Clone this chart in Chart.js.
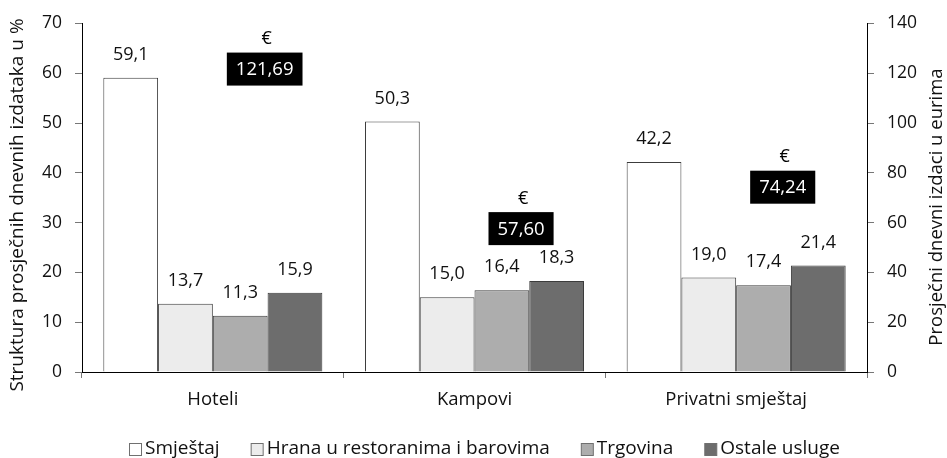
<!DOCTYPE html>
<html>
<head>
<meta charset="utf-8">
<script src="https://cdn.jsdelivr.net/npm/chart.js@4/dist/chart.umd.min.js"></script>
<style>
  html, body { margin: 0; padding: 0; background: #ffffff; }
  #wrap { width: 947px; height: 458px; }
</style>
</head>
<body>
<div id="wrap"><canvas id="c" width="947" height="458"></canvas></div>
<script>
const categories = ['Hoteli', 'Kampovi', 'Privatni smještaj'];
const seriesNames = ['Smještaj', 'Hrana u restoranima i barovima', 'Trgovina', 'Ostale usluge'];
const smjestaj = [59.1, 50.3, 42.2];
const hranaRestorani = [13.7, 15.0, 19.0];
const trgovina = [11.3, 16.4, 17.4];
const ostaleUsluge = [15.9, 18.3, 21.4];
const dnevniIzdaciEur = [121.69, 57.60, 74.24];
const leftAxisTicks = [0, 10, 20, 30, 40, 50, 60, 70];
const rightAxisTicks = [0, 20, 40, 60, 80, 100, 120, 140];
const leftAxisTitle = 'Struktura prosječnih dnevnih izdataka u %';
const rightAxisTitle = 'Prosječni dnevni izdaci u eurima';
const euroSymbol = '€';

const FONT = '"Open Sans", sans-serif';
const barColors = ['#ffffff', '#ececec', '#adadad', '#6d6d6d'];
const seriesValues = [smjestaj, hranaRestorani, trgovina, ostaleUsluge];
const fmt1 = v => v.toFixed(1).replace('.', ',');
const fmt2 = v => v.toFixed(2).replace('.', ',');

const datasets = seriesValues.map((vals, i) => ({
  type: 'bar',
  label: seriesNames[i],
  data: vals,
  backgroundColor: barColors[i],
  borderColor: '#3c3c3c',
  borderWidth: 1,
  yAxisID: 'y',
  categoryPercentage: 0.837,
  barPercentage: 1.0
}));
datasets.push({
  type: 'line',
  label: euroSymbol,
  data: dnevniIzdaciEur,
  yAxisID: 'y2',
  showLine: false,
  pointRadius: 0,
  pointHoverRadius: 0,
  isEuro: true
});

const annotate = {
  id: 'annotate',
  afterDatasetsDraw(chart) {
    const ctx = chart.ctx;
    ctx.save();
    chart.data.datasets.forEach((ds, di) => {
      const meta = chart.getDatasetMeta(di);
      if (ds.isEuro) {
        meta.data.forEach((el, i) => {
          const txt = fmt2(ds.data[i]);
          ctx.font = '18.5px ' + FONT;
          const w = ctx.measureText(txt).width;
          const bw = w + 18, bh = 33;
          const bx = el.x + 14, by = el.y - bh / 2;
          ctx.fillStyle = '#000000';
          ctx.fillRect(bx, by, bw, bh);
          ctx.fillStyle = '#ffffff';
          ctx.textAlign = 'center';
          ctx.textBaseline = 'middle';
          ctx.fillText(txt, bx + bw / 2, el.y + 1);
          ctx.fillStyle = '#000000';
          ctx.font = '18px ' + FONT;
          ctx.fillText(euroSymbol, bx + bw / 2 + 2, el.y - 30);
        });
      } else {
        meta.data.forEach((el, i) => {
          ctx.font = '18px ' + FONT;
          ctx.fillStyle = '#111111';
          ctx.textAlign = 'center';
          ctx.textBaseline = 'middle';
          ctx.fillText(fmt1(ds.data[i]), el.x, el.y - 23);
        });
      }
    });
    // axis titles
    ctx.fillStyle = '#111111';
    ctx.textAlign = 'center';
    ctx.textBaseline = 'middle';
    ctx.save();
    ctx.font = '19px ' + FONT;
    ctx.translate(18, 205);
    ctx.rotate(-Math.PI / 2);
    ctx.fillText(leftAxisTitle, 0, 0);
    ctx.restore();
    ctx.save();
    ctx.font = '18.5px ' + FONT;
    ctx.translate(937, 207);
    ctx.rotate(-Math.PI / 2);
    ctx.fillText(rightAxisTitle, 0, 0);
    ctx.restore();
    // legend
    ctx.font = '19px ' + FONT;
    const gap = 31, box = 13, boxText = 16;
    const widths = seriesNames.map(n => ctx.measureText(n).width);
    const total = widths.reduce((a, b) => a + b + boxText, 0) + gap * (seriesNames.length - 1);
    let x = 484.5 - total / 2;
    const ly = 449.5;
    seriesNames.forEach((n, i) => {
      ctx.fillStyle = barColors[i];
      ctx.fillRect(x + 0.5, ly - box / 2 + 0.5, box - 1, box - 1);
      ctx.strokeStyle = '#707070';
      ctx.lineWidth = 1;
      ctx.strokeRect(x + 0.5, ly - box / 2 + 0.5, box - 1, box - 1);
      ctx.fillStyle = '#111111';
      ctx.textAlign = 'left';
      ctx.textBaseline = 'middle';
      ctx.fillText(n, x + boxText, ly - 1);
      x += boxText + widths[i] + gap;
    });
    ctx.restore();
  }
};

new Chart(document.getElementById('c'), {
  type: 'bar',
  data: { labels: categories, datasets },
  options: {
    responsive: false,
    animation: false,
    events: [],
    layout: { padding: { top: 21, left: 0, right: 0, bottom: 0 } },
    plugins: { legend: { display: false }, tooltip: { enabled: false }, title: { display: false } },
    scales: {
      x: {
        type: 'category',
        offset: true,
        grid: { display: true, drawOnChartArea: false, drawTicks: true, tickLength: 6, color: '#777777', offset: true },
        border: { display: true, color: '#000000', width: 1 },
        ticks: { font: { family: FONT, size: 18.5 }, color: '#111111', padding: 11 },
        afterFit: s => { s.height = 86; }
      },
      y: {
        position: 'left',
        min: 0, max: 70,
        afterBuildTicks: s => { s.ticks = leftAxisTicks.map(v => ({ value: v })); },
        grid: { display: true, drawOnChartArea: false, drawTicks: true, tickLength: 7, color: '#777777' },
        border: { display: true, color: '#000000', width: 1 },
        ticks: { font: { family: FONT, size: 17.5 }, color: '#111111', padding: 13 },
        afterFit: s => { s.width = 82; }
      },
      y2: {
        position: 'right',
        min: 0, max: 140,
        afterBuildTicks: s => { s.ticks = rightAxisTicks.map(v => ({ value: v })); },
        grid: { display: true, drawOnChartArea: false, drawTicks: true, tickLength: 7, color: '#777777' },
        border: { display: true, color: '#000000', width: 1 },
        ticks: { font: { family: FONT, size: 17.5 }, color: '#111111', padding: 13 },
        afterFit: s => { s.width = 80; }
      }
    }
  },
  plugins: [annotate]
});
</script>
</body>
</html>
